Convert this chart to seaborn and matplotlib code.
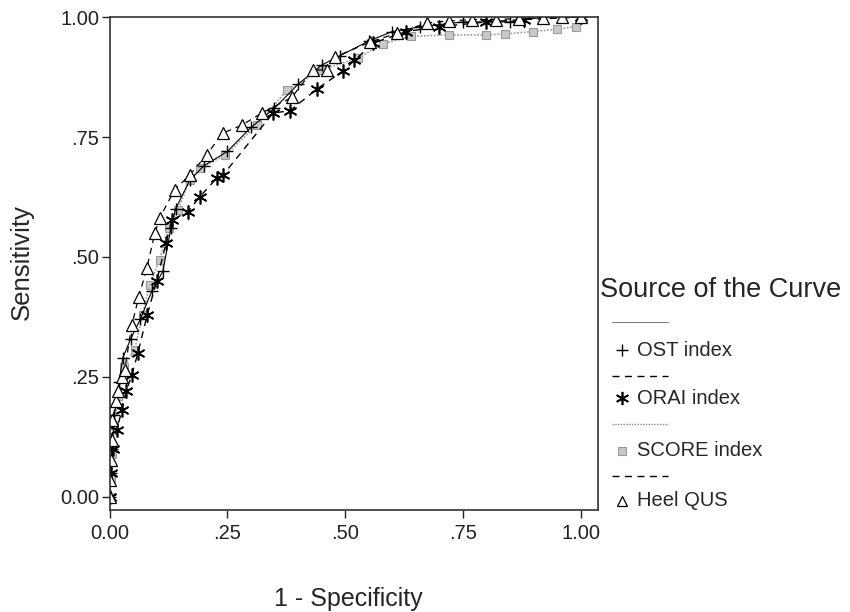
import pandas as pd
import numpy as np
import matplotlib
matplotlib.use("Agg")
import matplotlib.pyplot as plt
from matplotlib.lines import Line2D
import seaborn as sns

# ----------------------------------------------------------
# ROC curve points (1 - specificity, sensitivity)
# ----------------------------------------------------------
ost_x = [0, 0.002, 0.005, 0.01, 0.02, 0.028, 0.045, 0.065, 0.09, 0.113, 0.13, 0.14, 0.17, 0.20,
         0.25, 0.30, 0.35, 0.40, 0.45, 0.49, 0.55, 0.60, 0.66, 0.75, 0.85, 0.92, 1.0]
ost_y = [0, 0.05, 0.10, 0.17, 0.24, 0.29, 0.33, 0.37, 0.43, 0.47, 0.56, 0.60, 0.66, 0.69,
         0.72, 0.77, 0.81, 0.86, 0.90, 0.92, 0.95, 0.97, 0.98, 0.99, 0.99, 1.0, 1.0]

orai_x = [0, 0.003, 0.008, 0.015, 0.026, 0.035, 0.047, 0.06, 0.08, 0.10, 0.12, 0.132, 0.166,
          0.191, 0.228, 0.24, 0.347, 0.383, 0.44, 0.496, 0.52, 0.56, 0.63, 0.70, 0.80,
          0.88, 1.0]
orai_y = [0, 0.05, 0.10, 0.14, 0.18, 0.22, 0.254, 0.30, 0.38, 0.45, 0.53, 0.577, 0.594,
          0.625, 0.665, 0.67, 0.80, 0.805, 0.85, 0.888, 0.91, 0.946, 0.97, 0.98, 0.99,
          0.995, 1.0]

score_x = [0, 0.002, 0.005, 0.01, 0.018, 0.03, 0.053, 0.07, 0.085, 0.106, 0.125, 0.145, 0.17,
           0.191, 0.245, 0.313, 0.377, 0.45, 0.528, 0.58, 0.64, 0.72, 0.80, 0.84, 0.90, 0.95,
           0.99, 1.0]
score_y = [0, 0.04, 0.09, 0.15, 0.21, 0.27, 0.306, 0.38, 0.442, 0.494, 0.56, 0.598, 0.66,
           0.685, 0.712, 0.775, 0.848, 0.89, 0.915, 0.945, 0.96, 0.963, 0.963, 0.965, 0.97,
           0.975, 0.98, 1.0]

heel_x = [0, 0, 0.002, 0.004, 0.006, 0.013, 0.017, 0.026, 0.032, 0.047, 0.062, 0.079, 0.096,
          0.106, 0.138, 0.170, 0.206, 0.240, 0.281, 0.323, 0.387, 0.432, 0.462, 0.479, 0.553,
          0.611, 0.674, 0.72, 0.77, 0.82, 0.87, 0.92, 0.96, 1.0]
heel_y = [0, 0.035, 0.077, 0.119, 0.16, 0.20, 0.22, 0.25, 0.265, 0.358, 0.417, 0.477, 0.55,
          0.581, 0.64, 0.671, 0.713, 0.758, 0.775, 0.80, 0.833, 0.89, 0.89, 0.917, 0.948,
          0.967, 0.988, 0.992, 0.995, 0.995, 0.997, 0.998, 1.0, 1.0]

curve_names = ["OST index", "ORAI index", "SCORE index", "Heel QUS"]

# ----------------------------------------------------------
# Plot
# ----------------------------------------------------------
sns.set_style("ticks")
plt.rcParams['font.family'] = ['Liberation Sans', 'DejaVu Sans']

fig = plt.figure(figsize=(8.5, 6.12), dpi=100)
ax = fig.add_axes([0.129, 0.167, 0.575, 0.805])

asterisk = (6, 2, 0)
styles = {
    "OST index": dict(color="black", linestyle="-", linewidth=0.8, marker="+", markersize=9,
                      markeredgewidth=1.0, markeredgecolor="black"),
    "ORAI index": dict(color="black", linestyle=(0, (5, 4)), linewidth=1.0, marker=asterisk,
                       markersize=10, markeredgewidth=1.2, markeredgecolor="black"),
    "SCORE index": dict(color="#9a9a9a", linestyle=(0, (1, 1)), linewidth=1.2, marker="s",
                        markersize=6, markerfacecolor="#c8c8c8", markeredgecolor="#9a9a9a",
                        markeredgewidth=0.8),
    "Heel QUS": dict(color="black", linestyle=(0, (5, 4)), linewidth=0.9, marker="^",
                     markersize=8, markerfacecolor="white", markeredgecolor="black",
                     markeredgewidth=0.9),
}
data = {
    "OST index": (ost_x, ost_y),
    "ORAI index": (orai_x, orai_y),
    "SCORE index": (score_x, score_y),
    "Heel QUS": (heel_x, heel_y),
}

for name in ["SCORE index", "OST index", "ORAI index", "Heel QUS"]:
    xs, ys = data[name]
    df = pd.DataFrame({"x": xs, "y": ys})
    sns.lineplot(data=df, x="x", y="y", ax=ax, estimator=None, sort=False, **styles[name])

ax.set_xlim(0, 1.038)
ax.set_ylim(-0.027, 1.0)
ax.set_xticks([0, 0.25, 0.5, 0.75, 1.0])
ax.set_xticklabels(["0.00", ".25", ".50", ".75", "1.00"])
ax.set_yticks([0, 0.25, 0.5, 0.75, 1.0])
ax.set_yticklabels(["0.00", ".25", ".50", ".75", "1.00"])
ax.tick_params(direction="out", length=6, width=1, labelsize=14.5, colors="#222222")
ax.tick_params(axis="y", pad=1.5)
ax.tick_params(axis="x", pad=4)
for s in ax.spines.values():
    s.set_visible(True)
    s.set_color("#333333")
    s.set_linewidth(1.2)

ax.set_xlabel("")
ax.set_ylabel("")
fig.text(0.410, 0.022, "1 - Specificity", fontsize=18, ha="center", va="center")
fig.text(0.026, 0.572, "Sensitivity", fontsize=18.5, ha="center", va="center", rotation=90)

# ----------------------------------------------------------
# Legend drawn by hand, SPSS style (line sample above each label)
# ----------------------------------------------------------
W, H = 850, 612
fig.text(600 / W, 1 - 290 / H, "Source of the Curve", fontsize=19.5, ha="left", va="center")
line_rows = [322, 376, 424, 476]
label_rows = [350, 398, 451, 501]
legend_line_colors = ["#777777", "black", "#888888", "black"]
legend_line_widths = [0.7, 1.0, 1.0, 1.0]
for name, ly, ty, lc, lw in zip(curve_names, line_rows, label_rows,
                                legend_line_colors, legend_line_widths):
    st = styles[name]
    fig.add_artist(Line2D([612 / W, 668 / W], [1 - ly / H, 1 - ly / H],
                          transform=fig.transFigure, color=lc,
                          linestyle=st["linestyle"], linewidth=lw))
    mk = dict(st)
    mk.pop("linestyle"); mk.pop("linewidth"); mk.pop("color")
    mk["markersize"] = mk["markersize"] * 0.95
    fig.add_artist(Line2D([622 / W], [1 - ty / H], transform=fig.transFigure,
                          linestyle="none", color=st["color"], **mk))
    fig.text(637 / W, 1 - ty / H, name, fontsize=14.5, ha="left", va="center")

fig.savefig("out.png", dpi=100)
